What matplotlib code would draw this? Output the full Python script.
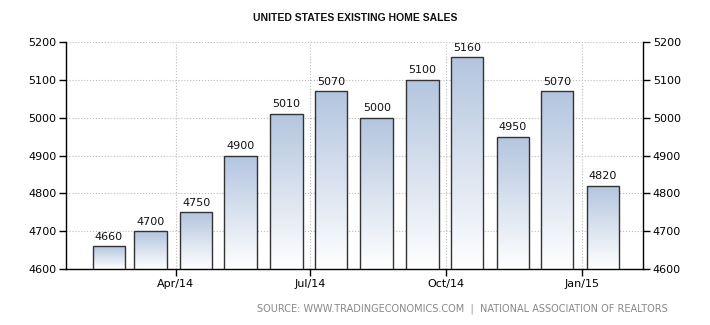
import datetime as dt
import numpy as np
import matplotlib
matplotlib.use('Agg')
import matplotlib.pyplot as plt
import matplotlib.dates as mdates

# existing home sales, thousands (Feb/14 - Jan/15)
months = ['2014-02', '2014-03', '2014-04', '2014-05', '2014-06', '2014-07',
          '2014-08', '2014-09', '2014-10', '2014-11', '2014-12', '2015-01']
sales = [4660, 4700, 4750, 4900, 5010, 5070, 5000, 5100, 5160, 4950, 5070, 4820]
tick_dates = ['2014-04-01', '2014-07-01', '2014-10-01', '2015-01-01']
tick_labels = ['Apr/14', 'Jul/14', 'Oct/14', 'Jan/15']

plt.rcParams['font.family'] = 'DejaVu Sans'
plt.rcParams['font.size'] = 8

fig = plt.figure(figsize=(7.1, 3.25), dpi=100)
ax = fig.add_axes([0.093, 0.172, 0.8126, 0.6985])

x = [mdates.date2num(dt.datetime.strptime(m + '-04', '%Y-%m-%d')) for m in months]
width = 22

# gradient for the bars: light blue at top, white at bottom
grad = np.linspace(1, 0, 256).reshape(-1, 1)
cmap = matplotlib.colors.LinearSegmentedColormap.from_list('g', ['#ffffff', '#b3c5df'])

bars = ax.bar(x, sales, width=width, align='edge', bottom=0, color='none',
              edgecolor='#333333', linewidth=1.0, zorder=3)
for b, v in zip(bars, sales):
    b.set_joinstyle('miter')
    x0 = b.get_x()
    im = ax.imshow(grad, extent=[x0, x0 + width, 4600, v], aspect='auto',
                   cmap=cmap, vmin=0, vmax=1, zorder=2)
    im.set_clip_path(b)
    ax.text(x0 + width / 2, v + 12, str(v), ha='center', va='bottom',
            fontsize=8, color='#111111')

ax.set_xlim(mdates.date2num(dt.datetime(2014, 1, 17)),
            mdates.date2num(dt.datetime(2015, 2, 11)))
ax.set_ylim(4600, 5200)
ax.set_xticks([mdates.date2num(dt.datetime.strptime(d, '%Y-%m-%d')) for d in tick_dates])
ax.set_xticklabels(tick_labels)
ax.set_yticks(range(4600, 5201, 100))

ax.grid(True, linestyle=':', color='#bbbbbb', linewidth=0.8, zorder=0)
ax.set_axisbelow(True)
ax.spines['top'].set_visible(False)
for s in ['left', 'right', 'bottom']:
    ax.spines[s].set_color('black')
    ax.spines[s].set_linewidth(1.0)
ax.tick_params(axis='both', direction='out', length=5, width=1, color='black',
               labelsize=8, pad=2, right=True, labelright=True)

fig.text(0.5, 0.945, 'UNITED STATES EXISTING HOME SALES', ha='center', va='center',
         fontsize=7.5, fontweight='bold', family='Liberation Sans', color='#111111')
fig.text(0.94, 0.05, 'SOURCE: WWW.TRADINGECONOMICS.COM  |  NATIONAL ASSOCIATION OF REALTORS',
         ha='right', va='center', fontsize=7, color='#888888')

fig.savefig('out.png', dpi=100)
